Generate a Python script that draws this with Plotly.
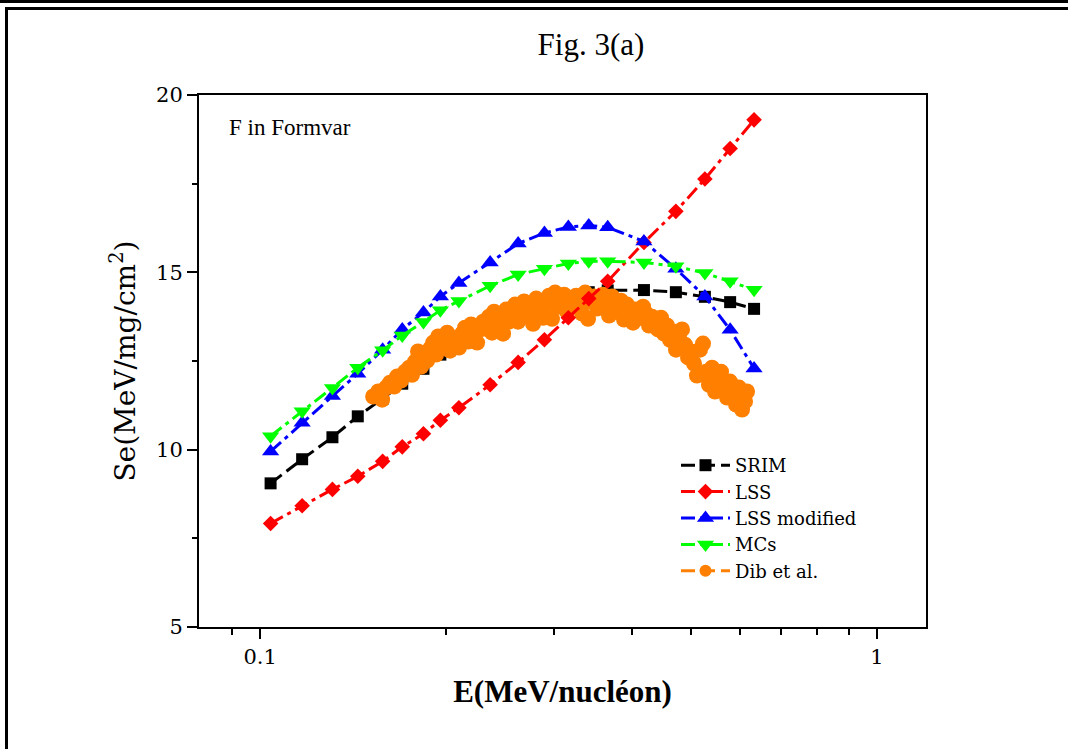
import plotly.graph_objects as go

# ---------------- data ----------------
E_model = [0.104, 0.117, 0.131, 0.144, 0.158, 0.170, 0.184, 0.196, 0.210, 0.236,
           0.262, 0.289, 0.316, 0.341, 0.366, 0.419, 0.472, 0.526, 0.578, 0.632]
Se_srim = [9.05, 9.73, 10.35, 10.94, 11.44, 11.86, 12.28, 12.68, 12.98, 13.52,
           13.88, 14.14, 14.31, 14.44, 14.49, 14.50, 14.44, 14.31, 14.16, 13.97]
Se_lss = [7.92, 8.42, 8.88, 9.25, 9.67, 10.08, 10.45, 10.83, 11.18, 11.83,
          12.46, 13.10, 13.72, 14.26, 14.75, 15.84, 16.72, 17.63, 18.49, 19.30]
Se_lss_mod = [9.95, 10.76, 11.51, 12.14, 12.82, 13.39, 13.87, 14.32, 14.70, 15.28,
              15.81, 16.11, 16.28, 16.32, 16.27, 15.87, 15.10, 14.32, 13.38, 12.29]
Se_mcs = [10.38, 11.08, 11.74, 12.31, 12.80, 13.22, 13.60, 13.93, 14.19, 14.62,
          14.94, 15.10, 15.25, 15.31, 15.31, 15.28, 15.17, 14.98, 14.75, 14.51]

E_dib = [0.1525, 0.1554, 0.1577, 0.1600, 0.1624, 0.1649, 0.1667, 0.1692, 0.1718, 0.1744,
         0.1763, 0.1783, 0.1803, 0.1824, 0.1845, 0.1865, 0.1886, 0.1908, 0.1929, 0.1944,
         0.1965, 0.1987, 0.2010, 0.2032, 0.2055, 0.2078, 0.2101, 0.2125, 0.2149, 0.2174,
         0.2198, 0.2223, 0.2248, 0.2273, 0.2299, 0.2325, 0.2350, 0.2377, 0.2395, 0.2422,
         0.2449, 0.2477, 0.2505, 0.2533, 0.2561, 0.2590, 0.2619, 0.2649, 0.2679, 0.2709,
         0.2739, 0.2770, 0.2802, 0.2843, 0.2875, 0.2908, 0.2940, 0.2973, 0.3007, 0.3041,
         0.3075, 0.3110, 0.3145, 0.3180, 0.3216, 0.3253, 0.3289, 0.3326, 0.3364, 0.3401,
         0.3439, 0.3478, 0.3517, 0.3557, 0.3597, 0.3637, 0.3678, 0.3720, 0.3762, 0.3804,
         0.3846, 0.3890, 0.3934, 0.3978, 0.4023, 0.4068, 0.4129, 0.4176, 0.4223, 0.4270,
         0.4318, 0.4367, 0.4416, 0.4466, 0.4516, 0.4567, 0.4618, 0.4670, 0.4723, 0.4776,
         0.4830, 0.4884, 0.4939, 0.4994, 0.5051, 0.5107, 0.5165, 0.5223, 0.5282, 0.5341,
         0.5402, 0.5463, 0.5525, 0.5587, 0.5650, 0.5714, 0.5777, 0.5843, 0.5909, 0.5975,
         0.6043, 0.6111, 0.6156]
Se_dib = [11.50, 11.64, 11.41, 11.75, 11.89, 11.78, 12.06, 11.95, 12.20, 12.31,
          12.11, 12.48, 12.77, 12.34, 12.62, 12.51, 12.85, 13.02, 12.68, 13.19,
          12.91, 13.07, 13.30, 12.79, 12.99, 13.13, 12.88, 13.27, 13.44, 13.05,
          13.53, 13.19, 13.02, 13.39, 13.61, 13.41, 13.75, 13.30, 13.89, 13.53,
          13.72, 13.27, 13.95, 13.61, 13.81, 14.09, 13.61, 13.89, 14.18, 13.78,
          14.03, 13.55, 14.26, 13.92, 13.72, 14.09, 14.34, 13.69, 14.43, 14.03,
          14.26, 14.37, 13.89, 14.23, 14.06, 14.34, 14.12, 13.84, 14.43, 13.69,
          14.18, 14.32, 13.98, 14.26, 14.37, 14.09, 13.78, 14.32, 14.09, 13.89,
          14.20, 13.67, 14.09, 13.86, 13.58, 13.95, 13.72, 14.03, 13.84, 13.50,
          13.75, 13.61, 13.39, 13.72, 13.27, 13.50, 13.10, 13.33, 12.82, 13.22,
          13.39, 12.96, 12.60, 12.77, 12.43, 12.09, 12.82, 12.99, 12.20, 11.83,
          12.31, 11.64, 12.03, 12.20, 11.81, 11.47, 11.92, 11.58, 11.27, 11.75,
          11.13, 11.36, 11.64]

x_tick_vals = [0.1, 1]
x_tick_text = ["0.1", "1"]
x_minor_vals = [0.09, 0.2, 0.3, 0.4, 0.5, 0.6, 0.7, 0.8, 0.9]
y_tick_vals = [5, 10, 15, 20]
y_minor_vals = [7.5, 12.5, 17.5]

# ---------------- figure ----------------
W, H = 1068, 749
ML, MR, MT, MB = 199, 142, 95, 122
PW, PH = W - ML - MR, H - MT - MB


def px_x(p):
    return (p - ML) / PW


def px_y(p):
    return (H - MB - p) / PH


SERIF = "DejaVu Serif"
TIMES = "Liberation Serif"
DASH_D = "14px,6px"
DASH_DD = "14px,5px,4px,5px"

fig = go.Figure()

fig.add_trace(go.Scatter(
    x=E_model, y=Se_srim, name="SRIM", mode="lines+markers",
    line=dict(color="black", width=3, dash=DASH_D),
    marker=dict(symbol="square", size=12, color="black"), legendrank=1))

fig.add_trace(go.Scatter(
    x=E_dib, y=Se_dib, name="Dib et al.", mode="markers", showlegend=False,
    marker=dict(symbol="circle", size=16, color="#FF8000")))

fig.add_trace(go.Scatter(
    x=E_model, y=Se_lss, name="LSS", mode="lines+markers",
    line=dict(color="#FF0000", width=3, dash=DASH_DD),
    marker=dict(symbol="diamond", size=12, color="#FF0000"), legendrank=2))

fig.add_trace(go.Scatter(
    x=E_model, y=Se_lss_mod, name="LSS modified", mode="lines+markers",
    line=dict(color="#0000FF", width=3, dash=DASH_DD),
    marker=dict(symbol="triangle-up", size=15, color="#0000FF"), legendrank=3))

fig.add_trace(go.Scatter(
    x=E_model, y=Se_mcs, name="MCs", mode="lines+markers",
    line=dict(color="#00FF00", width=3, dash=DASH_DD),
    marker=dict(symbol="triangle-down", size=15, color="#00FF00"), legendrank=4))

# legend entry for the experimental data (line + marker symbol)
fig.add_trace(go.Scatter(
    x=[None], y=[None], name="Dib et al.", mode="lines+markers",
    line=dict(color="#FF8000", width=3, dash=DASH_D),
    marker=dict(symbol="circle", size=12, color="#FF8000"), legendrank=5))

axis_common = dict(showgrid=False, zeroline=False, showline=True, linecolor="black",
                   linewidth=2, mirror=True, ticks="outside", tickcolor="black",
                   tickwidth=2, ticklen=10,
                   tickfont=dict(family=SERIF, size=21, color="black"))

fig.update_xaxes(type="log", range=[-1.099, 0.0794], tickmode="array",
                 tickvals=x_tick_vals, ticktext=x_tick_text,
                 minor=dict(tickmode="array", tickvals=x_minor_vals, ticks="outside",
                            ticklen=6, tickwidth=2, tickcolor="black", showgrid=False),
                 title=dict(text="E(MeV/nucléon)", standoff=12,
                            font=dict(family=TIMES, size=31, color="black", weight="bold")),
                 **axis_common)
fig.update_yaxes(range=[5, 20], tickmode="array", tickvals=y_tick_vals,
                 minor=dict(tickmode="array", tickvals=y_minor_vals, ticks="outside",
                            ticklen=5, tickwidth=2, tickcolor="black", showgrid=False),
                 title=dict(text="Se(MeV/mg/cm<sup>2</sup>)", standoff=12,
                            font=dict(family=SERIF, size=28, color="black")),
                 **axis_common)

frame = [
    dict(type="line", xref="paper", yref="paper", x0=px_x(0), x1=px_x(W),
         y0=px_y(1.5), y1=px_y(1.5), line=dict(color="black", width=3)),
    dict(type="line", xref="paper", yref="paper", x0=px_x(5), x1=px_x(W),
         y0=px_y(8.5), y1=px_y(8.5), line=dict(color="black", width=3)),
    dict(type="line", xref="paper", yref="paper", x0=px_x(6.5), x1=px_x(6.5),
         y0=px_y(7), y1=px_y(H), line=dict(color="black", width=3)),
]

fig.update_layout(
    width=W, height=H,
    margin=dict(l=ML, r=MR, t=MT, b=MB, autoexpand=False),
    paper_bgcolor="white", plot_bgcolor="white",
    title=dict(text="Fig. 3(a)", x=591 / W, xanchor="center",
               y=1 - 44 / H, yanchor="middle",
               font=dict(family=TIMES, size=31, color="black")),
    showlegend=True,
    legend=dict(x=px_x(676), y=px_y(447), xanchor="left", yanchor="top",
                bgcolor="rgba(0,0,0,0)", borderwidth=0, tracegroupgap=0,
                itemwidth=49,
                font=dict(family=SERIF, size=18, color="black")),
    annotations=[dict(text="F in Formvar", xref="paper", yref="paper",
                      x=px_x(227), y=px_y(127), xanchor="left", yanchor="middle",
                      showarrow=False,
                      font=dict(family=TIMES, size=23, color="black"))],
    shapes=frame,
)

fig.write_html("out.html")
